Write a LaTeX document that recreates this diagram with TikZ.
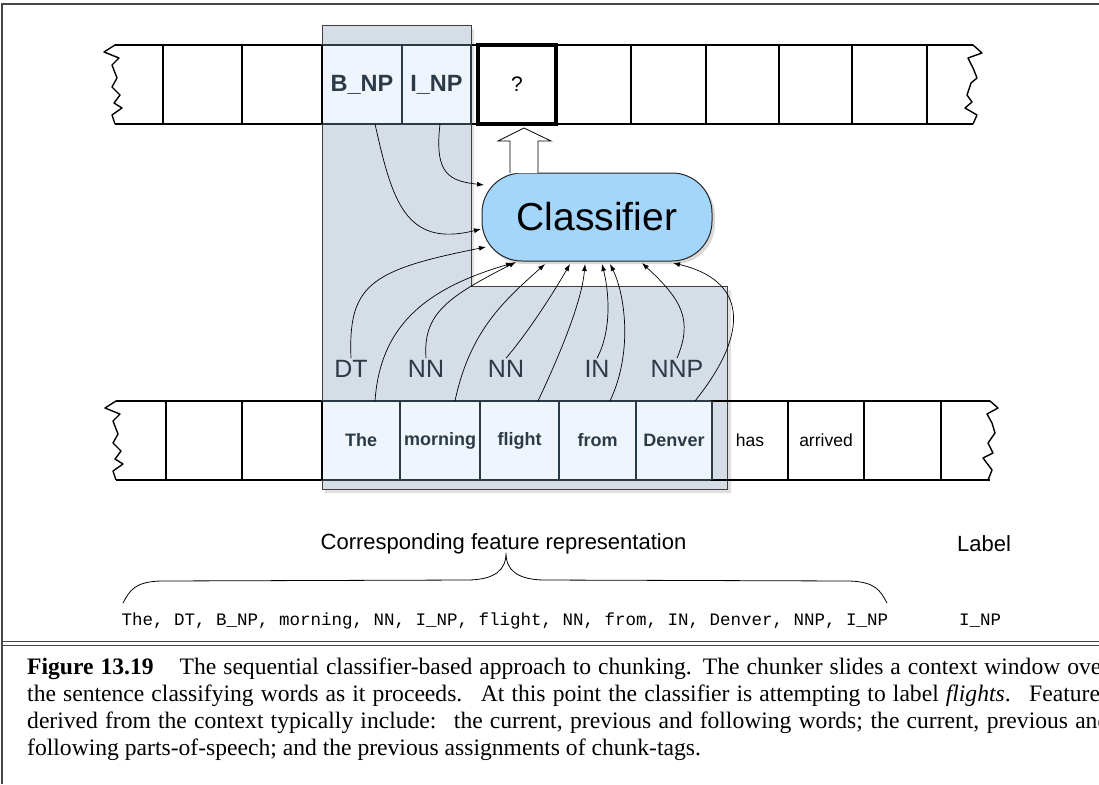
\documentclass[tikz,border=0pt]{standalone}
\usepackage{fontspec}
\setmainfont{Liberation Serif}
\newfontfamily\arialf{Liberation Sans}
\newfontfamily\courf{Liberation Mono}
\usetikzlibrary{arrows.meta,calc}
\definecolor{winfill}{RGB}{213,221,230}
\definecolor{cellfill}{RGB}{238,245,252}
\definecolor{slate}{RGB}{44,58,71}
\definecolor{clsfill}{RGB}{164,214,252}
\definecolor{framegray}{RGB}{70,70,70}
\begin{document}
\begin{tikzpicture}[x=1pt,y=-1pt,
  tape/.style={line width=1.4pt, line join=round},
  cell/.style={draw=black, line width=1.4pt, minimum height=79pt, inner sep=0pt, outer sep=0pt,
    font=\arialf\fontsize{17.5}{20}\selectfont},
  wcell/.style={cell, fill=cellfill, draw=slate, line width=1.2pt, text=slate,
    font=\arialf\bfseries\fontsize{18}{20}\selectfont},
  tagcell/.style={wcell, font=\arialf\bfseries\fontsize{23.5}{26}\selectfont},
  postag/.style={text=slate, inner sep=2pt, font=\arialf\fontsize{25}{28}\selectfont},
  feed/.style={line width=0.7pt, -{Latex[length=7pt,width=5pt]}},
  capline/.style={anchor=base west, inner sep=0pt, font=\fontsize{23.6}{27}\selectfont}
]
\useasboundingbox (0,0) rectangle (1099,784);
% frame
\draw[framegray, line width=1.2pt] (2,784) -- (2,4) -- (1099,4);
\draw[framegray, line width=1pt] (2,641) -- (1099,641);
\draw[framegray, line width=1pt] (2,645.5) -- (1099,645.5);

% context window (L-shape) with shadow
\fill[black, opacity=0.12] (325,29) -- (474,29) -- (474,290) -- (731,290) -- (731,493) -- (325,493) -- cycle;
\draw[fill=winfill, draw=black!75, line width=0.8pt] (322,25) -- (471,25) -- (471,286) -- (727,286) -- (727,489) -- (322,489) -- cycle;

% top tape
\draw[tape] (115,45) -- (973,45);
\draw[tape] (115,124) -- (973,124);
\draw[tape] (115,45) -- (104,52) -- (119,58) -- (112,65) -- (117,78) -- (112,87) -- (120,95) -- (114,103) -- (122,108) -- (112,115) -- (115,124);
\draw[tape] (973,45) -- (982,53) -- (968,58) -- (973,68) -- (977,78) -- (971,83) -- (967,95) -- (972,102) -- (965,108) -- (977,115) -- (973,124);
\node[cell, minimum width=79pt] (tA) at (202.5,84.5) {};
\node[cell, minimum width=80pt] (tB) at (282,84.5) {};
\node[tagcell, minimum width=80pt] (bnp) at (362,84.5) {B\_NP};
\node[tagcell, minimum width=69pt] (inp) at (436.5,84.5) {I\_NP};
\node[cell, minimum width=78pt, line width=3.6pt, font=\arialf\fontsize{21}{24}\selectfont] (q) at (517,84.5) {?};
\node[cell, minimum width=75pt] (tC) at (593.5,84.5) {};
\node[cell, minimum width=75pt] (tD) at (668.5,84.5) {};
\node[cell, minimum width=73pt] (tE) at (742.5,84.5) {};
\node[cell, minimum width=73pt] (tF) at (815.5,84.5) {};
\node[cell, minimum width=75pt] (tG) at (889.5,84.5) {};
\draw[line width=2.6pt] (322,45) -- (322,124);

% bottom tape
\draw[tape] (116,401) -- (990,401);
\draw[tape] (116,480) -- (990,480);
\draw[tape] (116,401) -- (105,408) -- (120,414) -- (113,421) -- (118,434) -- (113,443) -- (121,451) -- (115,459) -- (123,464) -- (113,471) -- (116,480);
\draw[tape] (990,401) -- (998,408) -- (987,414) -- (992,423) -- (995,433) -- (988,443) -- (993,453) -- (983,458) -- (992,470) -- (988,480);
\node[cell, minimum width=76pt] (bA) at (204,440.5) {};
\node[cell, minimum width=80pt] (bB) at (282,440.5) {};
\node[wcell, minimum width=78pt] (the) at (361,440.5) {The};
\node[wcell, minimum width=80pt] (morning) at (440,440.5) {morning};
\node[wcell, minimum width=79pt] (flight) at (519.5,440.5) {flight};
\node[wcell, minimum width=77pt] (from) at (597.5,440.5) {from};
\node[wcell, minimum width=76pt] (denver) at (674,440.5) {Denver};
\node[cell, minimum width=76pt] (has) at (750,440.5) {has};
\node[cell, minimum width=76pt] (arrived) at (826,440.5) {arrived};
\node[cell, minimum width=77pt] (bC) at (902.5,440.5) {};
\draw[line width=2.6pt] (322,401) -- (322,480);
\draw[line width=2.4pt, slate] (480,401) -- (480,480);
\draw[line width=2pt, slate] (712,401) -- (712,480);

% classifier
\fill[black, opacity=0.15, rounded corners=40pt] (484,176) rectangle (715,264);
\node[draw=black!85, line width=1pt, fill=clsfill, rounded corners=40pt, minimum width=230pt, minimum height=88pt, inner sep=0pt,
  font=\arialf\fontsize{39}{44}\selectfont] (cls) at (597,217) {Classifier};

% hollow block arrow from classifier to the ? cell
\draw[fill=white, line width=0.8pt, line join=miter] (510,173) -- (510,141) -- (498,141) -- (524,128) -- (551,141) -- (538,141) -- (538,173);

% POS labels
\node[postag] (dt) at (351,369) {DT};
\node[postag] (nn1) at (426,369) {NN};
\node[postag] (nn2) at (506,369) {NN};
\node[postag] (in) at (597,369) {IN};
\node[postag] (nnp) at (677,369) {NNP};

% feeding arrows
\draw[feed] ([xshift=13pt]bnp.south) .. controls (392,200) and (405,248) .. ($(cls.center)+(-116,12)$);
\draw[feed] ([xshift=3.5pt]inp.south) .. controls (434,175) and (450,181) .. ($(cls.center)+(-113,-32)$);
\draw[feed] (dt.north) .. controls (348,285) and (370,270) .. ($(cls.center)+(-111,30)$);
\draw[feed] ([xshift=14pt]the.north) .. controls (380,330) and (420,290) .. ($(cls.center)+(-84,46)$);
\draw[feed] (nn1.north) .. controls (423,315) and (445,298) .. ($(cls.center)+(-81,45)$);
\draw[feed] ([xshift=15pt]morning.north) .. controls (470,330) and (505,300) .. ($(cls.center)+(-52,47)$);
\draw[feed] (nn2.north) .. controls (530,330) and (555,290) .. ($(cls.center)+(-27,47)$);
\draw[feed] ([xshift=18.5pt]flight.north) .. controls (562,350) and (582,300) .. ($(cls.center)+(-12,47)$);
\draw[feed] (in.north) .. controls (612,330) and (609,292) .. ($(cls.center)+(5,47)$);
\draw[feed] ([xshift=12.5pt]from.north) .. controls (634,350) and (624,292) .. ($(cls.center)+(13,47)$);
\draw[feed] (nnp.north) .. controls (693,320) and (682,300) .. ($(cls.center)+(45,46)$);
\draw[feed] ([xshift=21pt]denver.north) .. controls (752,330) and (745,280) .. ($(cls.center)+(76,46)$);

% feature representation
\node[font=\arialf\fontsize{22}{26}\selectfont, inner sep=0pt] (corr) at (503.5,544) {Corresponding feature representation};
\node[font=\arialf\fontsize{22}{26}\selectfont, inner sep=0pt] (lab) at (984,544) {Label};
\node[font=\courf\fontsize{17.5}{20}\selectfont, inner sep=0pt] (feat) at (505,621) {The, DT, B\_NP, morning, NN, I\_NP, flight, NN, from, IN, Denver, NNP, I\_NP};
\node[font=\courf\fontsize{17.5}{20}\selectfont, inner sep=0pt] (labv) at (980,621) {I\_NP};
\draw[line width=0.8pt] (123,603) .. controls (130,590) and (135,582) .. (160,581) -- (470,580) .. controls (495,579) and (506,570) .. (506,553)
  .. controls (506,570) and (517,579) .. (542,580) -- (850,581) .. controls (875,582) and (880,590) .. (887,603);

% caption
\node[capline] (cap1) at (27,674) {\makebox[1082pt][s]{\textbf{Figure 13.19}\hspace{1.1em}The sequential classifier-based approach to chunking. The chunker slides a context window over}};
\node[capline] (cap2) at (27,701) {\makebox[1082pt][s]{the sentence classifying words as it proceeds. \ At this point the classifier is attempting to label \textit{flights}. \ Features}};
\node[capline] (cap3) at (27,728) {\makebox[1082pt][s]{derived from the context typically include: \ the current, previous and following words; the current, previous and}};
\node[capline] (cap4) at (27,755) {following parts-of-speech; and the previous assignments of chunk-tags.};
\end{tikzpicture}
\end{document}
